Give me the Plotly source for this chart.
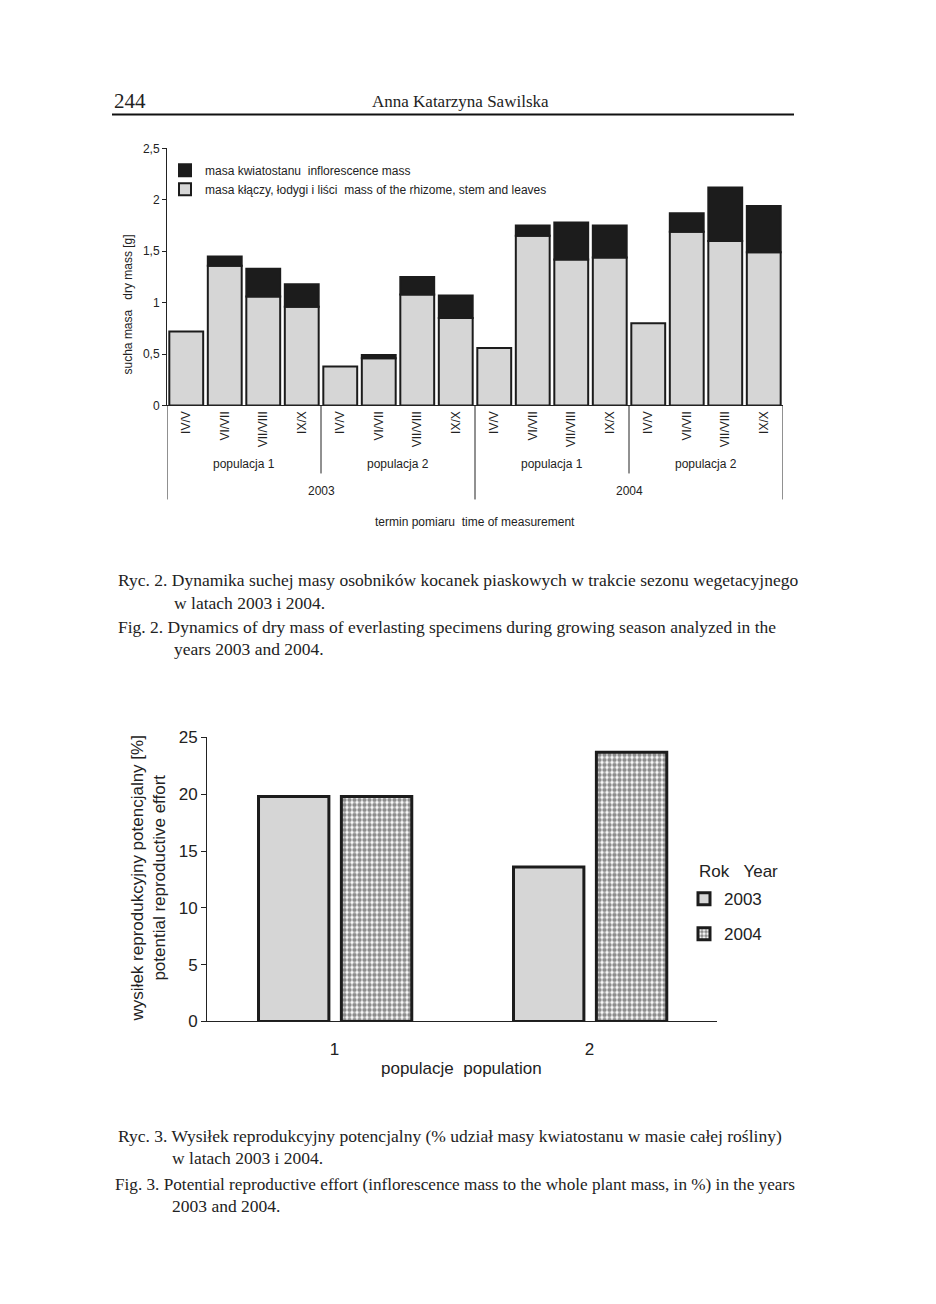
import plotly.graph_objects as go

W, H = 936, 1304


def px(x):
    return x / W


def Y(y_ref):
    # vertical placement in paper units, compensated for the capture's vertical fit
    raw = (y_ref - 8.5) / 0.9855
    return 1 - raw / H


def Yraw(raw):
    return 1 - raw / H


NB = "\u00a0"

# ---------------- data: Fig. 2 ----------------
terms = ["IV/V", "VI/VII", "VII/VIII", "IX/X"] * 4
populations = ["populacja 1", "populacja 2", "populacja 1", "populacja 2"]
years = ["2003", "2004"]
stem_mass = [0.72, 1.36, 1.06, 0.96,
             0.38, 0.46, 1.08, 0.85,
             0.56, 1.65, 1.42, 1.44,
             0.80, 1.69, 1.60, 1.49]
infl_mass = [0.00, 0.09, 0.27, 0.22,
             0.00, 0.03, 0.17, 0.22,
             0.00, 0.10, 0.36, 0.31,
             0.00, 0.18, 0.52, 0.45]

# ---------------- data: Fig. 3 ----------------
pop_labels = ["1", "2"]
effort_2003 = [19.8, 13.6]
effort_2004 = [19.8, 23.7]

SANS = "Liberation Sans, Arial, sans-serif"
SERIF = "Liberation Serif, Times New Roman, serif"
INK = "#1c1c1c"
GRAY = "#d6d6d6"

idx = list(range(len(terms)))
infl_plot = [v if v > 0 else None for v in infl_mass]

fig = go.Figure()

fig.add_trace(go.Bar(
    x=idx, y=stem_mass, xaxis="x", yaxis="y",
    width=0.88, offset=-0.44,
    marker=dict(color=GRAY, line=dict(color=INK, width=2)),
    name="masa kłączy, łodygi i liści" + NB * 2 + "mass of the rhizome, stem and leaves",
    legend="legend",
))
fig.add_trace(go.Bar(
    x=idx, y=infl_plot, base=stem_mass, xaxis="x", yaxis="y",
    width=0.88, offset=-0.44,
    marker=dict(color=INK, line=dict(color=INK, width=2)),
    name="masa kwiatostanu" + NB * 2 + "inflorescence mass",
    legend="legend",
))

fig.add_trace(go.Bar(
    x=pop_labels, y=effort_2003, xaxis="x2", yaxis="y2",
    width=0.276, offset=-0.298,
    marker=dict(color=GRAY, line=dict(color=INK, width=3)),
    name="2003", legend="legend2", legendgroup="a",
))
fig.add_trace(go.Bar(
    x=pop_labels, y=effort_2004, xaxis="x2", yaxis="y2",
    width=0.276, offset=0.027,
    marker=dict(color="white", line=dict(color=INK, width=3),
                pattern=dict(shape=".", fgcolor=INK, bgcolor="white",
                             size=5, solidity=0.62)),
    name="2004", legend="legend2", legendgroup="b",
))

annotations = []
shapes = []


def note(text, x, y, size, family=SANS, xanchor="center", xref="paper", angle=0):
    annotations.append(dict(text=text, x=x, y=y, xref=xref, yref="paper",
                            xanchor=xanchor, yanchor="middle", showarrow=False,
                            textangle=angle,
                            font=dict(family=family, size=size, color="#222")))


# header
note("244", px(112), Y(101), 21, SERIF, "left")
note("Anna Katarzyna Sawilska", px(460), Y(101), 17, SERIF)
shapes.append(dict(type="line", xref="paper", yref="paper", x0=px(112), x1=px(794),
                   y0=Y(114), y1=Y(114), line=dict(color="#111", width=2)))

# Fig. 2 group labels and separators
for i, p in enumerate(populations):
    note(p, i * 4 + 1.5, Y(464), 12, xref="x")
for i, yr in enumerate(years):
    note(yr, i * 8 + 3.5, Y(491), 12, xref="x")
note("termin pomiaru" + NB * 2 + "time of measurement", 7.5, Y(522), 12, xref="x")
note("sucha masa" + NB * 3 + "dry mass [g]", px(128), Y(304), 12, angle=-90)

for xv in [3.5, 11.5]:
    shapes.append(dict(type="line", xref="x", yref="paper", x0=xv, x1=xv,
                       y0=Y(405), y1=Y(473), line=dict(color="#222", width=1)))
for xv in [-0.5, 7.5, 15.5]:
    shapes.append(dict(type="line", xref="x", yref="paper", x0=xv, x1=xv,
                       y0=Y(405), y1=Y(499), line=dict(color="#222", width=1)))

# Fig. 3 labels
note("wysiłek reprodukcyjny potencjalny [%]<br>potential reproductive effort",
     px(148), Y(878), 17, angle=-90)
note("populacje" + NB * 2 + "population", px(461), Y(1068), 17)
note("Rok" + NB * 3 + "Year", px(697), Y(871), 17, xanchor="left")

# captions
captions = [
    ("Ryc. 2. Dynamika suchej masy osobników kocanek piaskowych w trakcie sezonu wegetacyjnego", 116, 580, 17.5),
    ("w latach 2003 i 2004.", 172, 603, 17.5),
    ("Fig. 2. Dynamics of dry mass of everlasting specimens during growing season analyzed in the", 116, 627, 17.5),
    ("years 2003 and 2004.", 172, 649, 17.5),
    ("Ryc. 3. Wysiłek reprodukcyjny potencjalny (% udział masy kwiatostanu w masie całej rośliny)", 116, 1136, 17.5),
    ("w latach 2003 i 2004.", 170, 1158, 17.5),
    ("Fig. 3. Potential reproductive effort (inflorescence mass to the whole plant mass, in %) in the years", 113, 1184, 17.2),
    ("2003 and 2004.", 170, 1206, 17.5),
]
for t, x0, y0, fs in captions:
    note(t, px(x0), Y(y0), fs, SERIF, "left")

fig.update_layout(
    width=W, height=H,
    margin=dict(l=0, r=0, t=0, b=0),
    paper_bgcolor="white", plot_bgcolor="white",
    separators=",.",
    barmode="overlay",
    font=dict(family=SANS, color="#222"),
    xaxis=dict(domain=[px(167), px(783)], range=[-0.5, 15.5],
               tickvals=idx, ticktext=terms, tickangle=-90,
               tickfont=dict(family=SANS, size=12, color="#222"),
               showline=True, linecolor="#222", linewidth=1,
               showgrid=False, zeroline=False, ticks=""),
    yaxis=dict(domain=[Y(405), Y(148)], range=[0, 2.5], dtick=0.5,
               ticks="outside", ticklen=4, tickcolor="#222",
               tickfont=dict(family=SANS, size=12, color="#222"),
               showline=True, linecolor="#222", linewidth=1,
               showgrid=False, zeroline=False),
    xaxis2=dict(domain=[px(207), px(717)], range=[-0.5, 1.5], type="category",
                anchor="y2", ticks="outside", ticklen=12, tickcolor="rgba(0,0,0,0)",
                tickfont=dict(family=SANS, size=17, color="#222"),
                showline=True, linecolor="#222", linewidth=1,
                showgrid=False, zeroline=False),
    yaxis2=dict(domain=[Y(1021), Y(737)], range=[0, 25], dtick=5, anchor="x2",
                ticks="outside", ticklen=5, tickcolor="#222",
                tickfont=dict(family=SANS, size=17, color="#222"),
                showline=True, linecolor="#222", linewidth=1,
                showgrid=False, zeroline=False),
    legend=dict(x=px(165), y=Yraw(149), xanchor="left", yanchor="top",
                traceorder="reversed", bgcolor="rgba(0,0,0,0)",
                font=dict(family=SANS, size=12, color="#222")),
    legend2=dict(x=px(684), y=Yraw(885), xanchor="left", yanchor="top",
                 traceorder="grouped", tracegroupgap=10, bgcolor="rgba(0,0,0,0)",
                 font=dict(family=SANS, size=17, color="#222")),
    annotations=annotations,
    shapes=shapes,
)

fig.write_html(
    "out.html",
    config={"displayModeBar": False},
    post_script=(
        "document.documentElement.style.margin='0';"
        "document.body.style.margin='0';document.body.style.padding='0';"
        "var gd=document.getElementById('{plot_id}');"
        "gd.style.position='fixed';gd.style.top='0px';gd.style.left='0px';"
    ),
)
